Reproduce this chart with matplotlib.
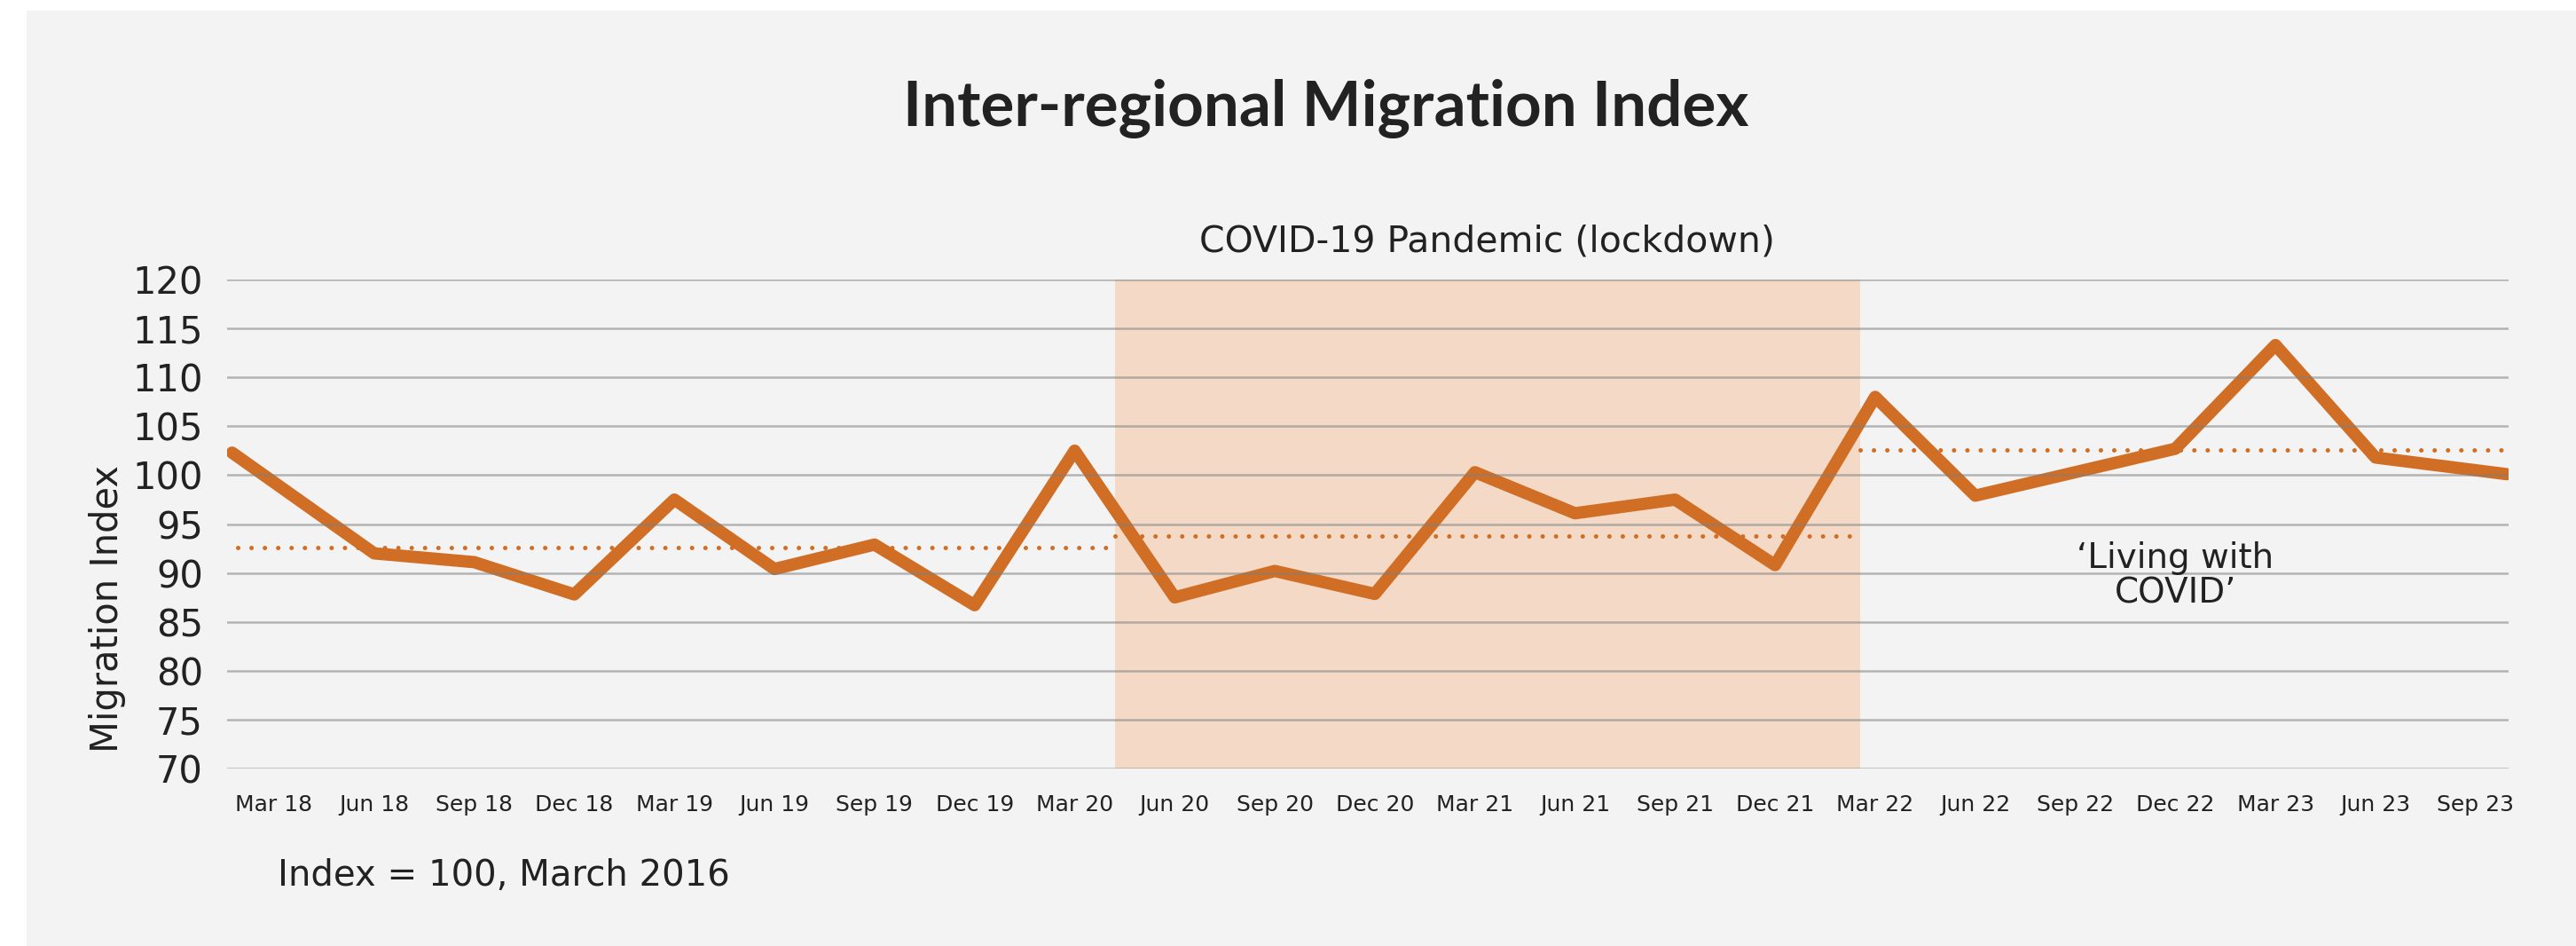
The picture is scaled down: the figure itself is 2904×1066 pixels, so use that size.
import matplotlib
matplotlib.use("Agg")
import matplotlib.pyplot as plt
import numpy as np
from matplotlib.patches import Rectangle

# data
quarters = ["Mar 18", "Jun 18", "Sep 18", "Dec 18", "Mar 19", "Jun 19", "Sep 19", "Dec 19",
            "Mar 20", "Jun 20", "Sep 20", "Dec 20", "Mar 21", "Jun 21", "Sep 21", "Dec 21",
            "Mar 22", "Jun 22", "Sep 22", "Dec 22", "Mar 23", "Jun 23", "Sep 23"]
migration_index = [102.3, 92.0, 91.1, 87.8, 97.5, 90.4, 92.9, 86.7,
                   102.5, 87.5, 90.2, 87.85, 100.3, 96.1, 97.5, 90.8,
                   108.0, 97.9, 100.3, 102.7, 113.3, 101.8, 100.1]
# average level of each period (dotted lines): before, lockdown, living with COVID
period_means = [92.6, 93.8, 102.6]
y_ticks = [70, 75, 80, 85, 90, 95, 100, 105, 110, 115, 120]

ORANGE = "#D06E26"
SHADE = "#F4DAC6"
TXT = "#222222"
W, H = 2904, 1066

fig = plt.figure(figsize=(W / 100, H / 100), dpi=100)
fig.patch.set_facecolor("white")
# light grey panel behind everything
fig.add_artist(Rectangle((30 / W, 0), 1 - 30 / W, 1 - 12 / H, transform=fig.transFigure,
                         facecolor="#F3F3F3", edgecolor="none", zorder=0))

ax = fig.add_axes([256 / W, 1 - 866 / H, (2828 - 256) / W, (866 - 315) / H])
ax.set_facecolor("none")

xmin, xmax = -0.47, 22.33
lock_start, lock_end = 8.4, 15.85

x = np.arange(len(quarters), dtype=float)
# the line runs from edge to edge of the plot area
x_line = x.copy()
x_line[0] = xmin + 0.05
x_line[-1] = xmax - 0.02

# lockdown shading
ax.axvspan(lock_start, lock_end, color=SHADE, lw=0, zorder=1)

# dotted period averages
bounds = [xmin + 0.11, lock_start, lock_end, xmax - 0.07]
for i, m in enumerate(period_means):
    ax.plot([bounds[i], bounds[i + 1]], [m, m], color=ORANGE, lw=3.6,
            linestyle=(0, (0.01, 3.0)), dash_capstyle="round", zorder=2)

ax.plot(x_line, migration_index, color=ORANGE, lw=10,
        solid_joinstyle="round", solid_capstyle="round", zorder=2.2)

ax.set_xlim(xmin, xmax)
ax.set_ylim(70, 120)
ax.set_yticks(y_ticks)
ax.set_xticks(x, quarters)
ax.set_axisbelow(False)
ax.yaxis.grid(True, color="#7f7f7f", alpha=0.55, lw=1.8)
ax.xaxis.grid(False)
for s in ax.spines.values():
    s.set_visible(False)
ax.tick_params(axis="x", length=0, pad=21, labelsize=18, labelcolor=TXT)
ax.tick_params(axis="y", length=0, pad=19.5, labelsize=30, labelcolor=TXT)

ax.text((lock_start + lock_end) / 2, 122.9, "COVID-19 Pandemic (lockdown)",
        ha="center", va="baseline", fontsize=29.5, color=TXT, clip_on=False)
ax.text(19, 89.7, "\u2018Living with\nCOVID\u2019", ha="center", va="center",
        fontsize=28, color=TXT, linespacing=1.05)

fig.text(121 / W, 1 - 686 / H, "Migration Index", rotation=90, ha="center", va="center",
         fontsize=30, color=TXT)
fig.text(1495 / W, 1 - 142 / H, "Inter-regional Migration Index", ha="center", va="baseline",
         fontsize=51, fontweight="bold", color=TXT, family=["Lato", "DejaVu Sans"])
fig.text(313 / W, 1 - 998 / H, "Index = 100, March 2016", ha="left", va="baseline",
         fontsize=29, color=TXT)

plt.savefig("out.png", dpi=100)
plt.close()
